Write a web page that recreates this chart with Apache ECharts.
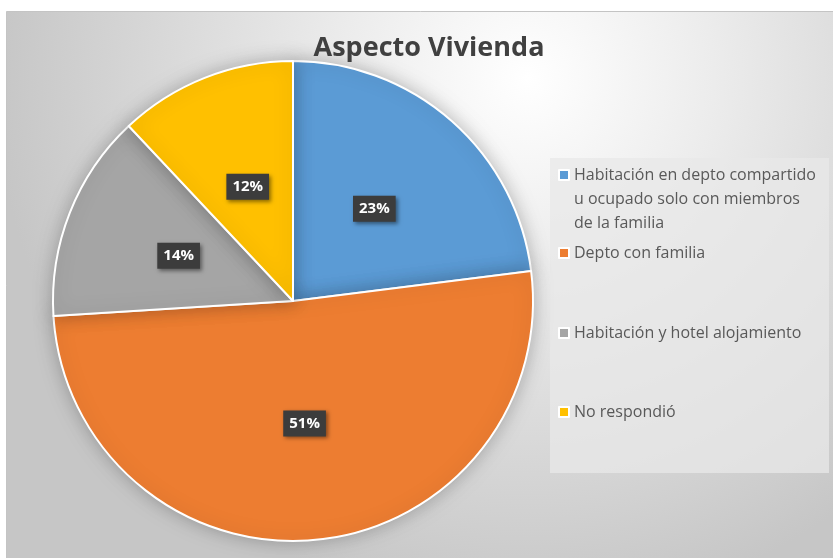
<!DOCTYPE html>
<html>
<head>
<meta charset="utf-8">
<script src="https://cdn.jsdelivr.net/npm/echarts@6/dist/echarts.min.js"></script>
<style>
  html, body { margin: 0; padding: 0; background: #fff; }
  #main { width: 833px; height: 558px; }
</style>
</head>
<body>
<div id="main"></div>
<script>
    // datos del gráfico
    var categorias = [
        'Habitación en depto compartido u ocupado solo con miembros de la familia'
        , 'Depto con familia'
        , 'Habitación y hotel alojamiento'
        , 'No respondió'
    ];
    var valores = [23, 51, 14, 12];
    var colores = ['#5b9bd5', '#ed7d31', '#a5a5a5', '#ffc000'];
    // la primera leyenda va partida en tres líneas
    var lineasLeyenda = ['Habitación en depto compartido', 'u ocupado solo con miembros', 'de la familia'];
    var topsLeyenda = [115, 241, 321, 400];

    var chart = echarts.init(document.getElementById('main'));

    var datos = [];
    for (let i = 0; i < categorias.length; i++) {
        datos.push({ name: categorias[i], value: valores[i], itemStyle: { color: colores[i] } });
    }

    var leyendas = [];
    for (let i = 0; i < categorias.length; i++) {
        leyendas.push({
            data: [categorias[i]]
            , left: 558
            , top: topsLeyenda[i]
            , padding: 0
            , itemWidth: 10
            , itemHeight: 10
            , icon: 'rect'
            , selectedMode: false
            , textStyle: { fontFamily: 'Open Sans', fontSize: 16, color: '#595959', lineHeight: 24 }
            , formatter: i === 0 ? function () { return '\n\n' + lineasLeyenda.join('\n'); } : '{name}'
        });
    }

    var options = {
        animation: false,
        graphic: [{
            type: 'rect',
            z: -10,
            shape: { x: 6.5, y: 11.5, width: 840, height: 560 },
            style: {
                stroke: '#c4c4c4',
                lineWidth: 1,
                fill: {
                    type: 'radial', x: 0.62, y: 0.12, r: 0.95,
                    colorStops: [
                        { offset: 0, color: '#ffffff' },
                        { offset: 0.35, color: '#ececec' },
                        { offset: 1, color: '#c6c6c6' }
                    ]
                }
            }
        }, {
            type: 'rect',
            z: -5,
            shape: { x: 550, y: 158, width: 279, height: 315 },
            style: { fill: 'rgba(232,232,232,0.75)' }
        }],
        title: {
            text: 'Aspecto Vivienda',
            left: 424,
            textAlign: 'center',
            top: 30,
            textStyle: { fontFamily: 'Open Sans', fontWeight: 'bold', fontSize: 27, color: '#404040' }
        },
        legend: leyendas,
        series: [{
            type: 'pie',
            center: [293, 301],
            radius: 240,
            startAngle: 90,
            clockwise: true,
            label: {
                position: 'inside',
                formatter: '{c}%',
                fontFamily: 'Open Sans',
                fontWeight: 'bold',
                fontSize: 15,
                color: '#ffffff',
                backgroundColor: '#3c3c3c',
                padding: [6, 6, 5, 6],
                shadowColor: 'rgba(0,0,0,0.45)',
                shadowBlur: 4,
                shadowOffsetX: 2,
                shadowOffsetY: 2
            },
            labelLine: { show: false },
            itemStyle: {
                borderColor: '#ffffff',
                borderWidth: 2,
                shadowColor: 'rgba(0,0,0,0.25)',
                shadowBlur: 18
            },
            emphasis: { disabled: true },
            data: datos
        }]
    };

    chart.setOption(options);
</script>
</body>
</html>
